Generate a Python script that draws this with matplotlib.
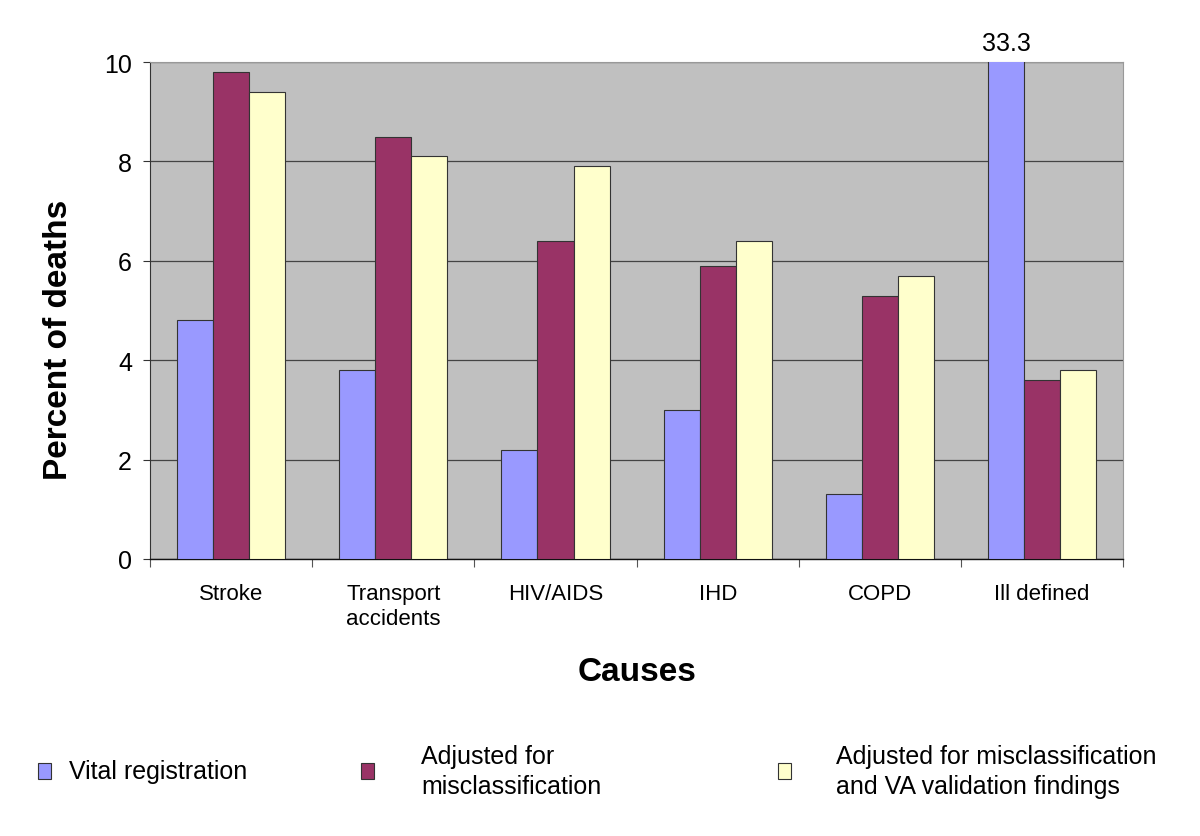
import matplotlib
matplotlib.use("Agg")
import matplotlib.pyplot as plt
from matplotlib.patches import Rectangle
import numpy as np

plt.rcParams['font.family'] = ['Liberation Sans', 'DejaVu Sans']

categories = ["Stroke", "Transport\naccidents", "HIV/AIDS", "IHD", "COPD", "Ill defined"]
series_names = ["Vital registration", "Adjusted for\nmisclassification",
                "Adjusted for misclassification\nand VA validation findings"]
vital = [4.8, 3.8, 2.2, 3.0, 1.3, 33.3]
adj_mis = [9.8, 8.5, 6.4, 5.9, 5.3, 3.6]
adj_va = [9.4, 8.1, 7.9, 6.4, 5.7, 3.8]
yticks = [0, 2, 4, 6, 8, 10]
colors = ["#9999FF", "#993366", "#FFFFCC"]

fig = plt.figure(figsize=(12, 8.37), dpi=100)
ax = fig.add_axes([0.125, 0.331, 0.811, 0.5937])
ax.set_facecolor("#C0C0C0")

x = np.arange(len(categories))
w = 0.222
ymax = 10
for i, (vals, c) in enumerate(zip([vital, adj_mis, adj_va], colors)):
    ax.bar(x + (i - 1) * w, vals, width=w, color=c, edgecolor="#333333",
           linewidth=0.8, zorder=3)

# annotate clipped bar(s)
for i, v in enumerate(vital):
    if v > ymax:
        ax.annotate(f"{v}", xy=(x[i] - w, ymax), xytext=(0, 5),
                    textcoords="offset points", ha="center", va="bottom",
                    fontsize=18, annotation_clip=False)

ax.set_ylim(0, ymax)
ax.set_xlim(-0.5, len(categories) - 0.5)
ax.set_yticks(yticks)
ax.set_yticklabels([str(t) for t in yticks], fontsize=18)
ax.tick_params(axis="y", direction="out", length=5, width=0.8, color="#333333", pad=8)
ax.yaxis.grid(True, color="#444444", linewidth=0.9, zorder=1)
ax.set_axisbelow(True)

ax.set_xticks(x)
ax.set_xticklabels(categories, fontsize=16, va="top", linespacing=1.25)
ax.tick_params(axis="x", which="major", length=0, pad=17)
ax.set_xticks(np.arange(-0.5, len(categories), 1.0), minor=True)
ax.tick_params(axis="x", which="minor", direction="out", length=6, width=0.8, color="#555555")

for s in ["top", "right"]:
    ax.spines[s].set_color("#999999")
    ax.spines[s].set_linewidth(0.8)
ax.spines["left"].set_color("#333333")
ax.spines["bottom"].set_color("#111111")
ax.spines["bottom"].set_linewidth(1.0)

ax.set_ylabel("Percent of deaths", fontsize=24, fontweight="bold")
ax.yaxis.set_label_coords(-0.078, 0.443)
ax.set_xlabel("Causes", fontsize=24, fontweight="bold")
ax.xaxis.set_label_coords(0.5, -0.195)

# legend (manual layout)
W, H = 1200, 837
marker_x = [38, 361, 778]
text_x = [69, 421, 836]
yc = 772
for mx, tx, name, c in zip(marker_x, text_x, series_names, colors):
    fig.add_artist(Rectangle((mx / W, 1 - (yc + 8) / H), 13 / W, 16 / H,
                             transform=fig.transFigure, facecolor=c,
                             edgecolor="#333333", linewidth=0.8))
    fig.text(tx / W, 1 - yc / H, name, fontsize=18, ha="left", va="center",
             linespacing=1.3)

fig.savefig("out.png", dpi=100)
